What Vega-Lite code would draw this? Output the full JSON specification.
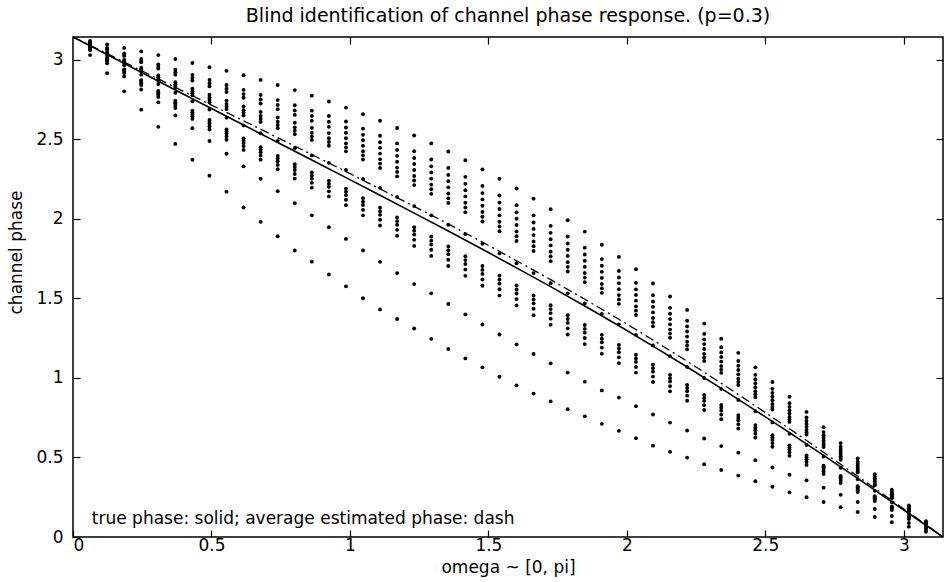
{
"$schema": "https://vega.github.io/schema/vega-lite/v6.json",
"width": 870, "height": 500,
"autosize": {"type": "none"},
"padding": {"left": 73, "top": 37, "right": 2, "bottom": 45},
"background": "white",
"config": {"view": {"stroke": "black", "strokeWidth": 1.5}, "font": "DejaVu Sans",
 "axis": {"grid": false, "domain": false, "tickColor": "black", "labelColor": "black", "titleColor": "black", "labelFont": "DejaVu Sans", "titleFont": "DejaVu Sans", "labelFontSize": 17, "titleFontSize": 17, "titleFontWeight": "normal", "tickWidth": 1.2}},
"title": {"text": "Blind identification of channel phase response. (p=0.3)", "fontSize": 19, "fontWeight": "normal", "font": "DejaVu Sans", "color": "black", "offset": 10, "baseline": "bottom", "dy": 21},
"datasets": {
"pts": [
{"x":0.0616,"y":3.117},{"x":0.0616,"y":3.107},{"x":0.0616,"y":3.105},{"x":0.0616,"y":3.102},{"x":0.0616,"y":3.094},{"x":0.0616,"y":3.091},{"x":0.0616,"y":3.089},{"x":0.0616,"y":3.087},{"x":0.0616,"y":3.083},{"x":0.0616,"y":3.074},{"x":0.0616,"y":3.072},{"x":0.0616,"y":3.071},{"x":0.0616,"y":3.069},{"x":0.0616,"y":3.066},{"x":0.0616,"y":3.059},{"x":0.0616,"y":3.028},
{"x":0.1232,"y":3.095},{"x":0.1232,"y":3.073},{"x":0.1232,"y":3.068},{"x":0.1232,"y":3.063},{"x":0.1232,"y":3.045},{"x":0.1232,"y":3.041},{"x":0.1232,"y":3.037},{"x":0.1232,"y":3.033},{"x":0.1232,"y":3.023},{"x":0.1232,"y":3.006},{"x":0.1232,"y":3.003},{"x":0.1232,"y":3.000},{"x":0.1232,"y":2.996},{"x":0.1232,"y":2.991},{"x":0.1232,"y":2.977},{"x":0.1232,"y":2.914},
{"x":0.1848,"y":3.073},{"x":0.1848,"y":3.039},{"x":0.1848,"y":3.030},{"x":0.1848,"y":3.023},{"x":0.1848,"y":2.997},{"x":0.1848,"y":2.990},{"x":0.1848,"y":2.984},{"x":0.1848,"y":2.979},{"x":0.1848,"y":2.964},{"x":0.1848,"y":2.938},{"x":0.1848,"y":2.934},{"x":0.1848,"y":2.929},{"x":0.1848,"y":2.923},{"x":0.1848,"y":2.915},{"x":0.1848,"y":2.894},{"x":0.1848,"y":2.800},
{"x":0.2464,"y":3.051},{"x":0.2464,"y":3.004},{"x":0.2464,"y":2.993},{"x":0.2464,"y":2.983},{"x":0.2464,"y":2.949},{"x":0.2464,"y":2.939},{"x":0.2464,"y":2.932},{"x":0.2464,"y":2.925},{"x":0.2464,"y":2.905},{"x":0.2464,"y":2.871},{"x":0.2464,"y":2.865},{"x":0.2464,"y":2.859},{"x":0.2464,"y":2.850},{"x":0.2464,"y":2.840},{"x":0.2464,"y":2.812},{"x":0.2464,"y":2.685},
{"x":0.308,"y":3.028},{"x":0.308,"y":2.969},{"x":0.308,"y":2.955},{"x":0.308,"y":2.943},{"x":0.308,"y":2.900},{"x":0.308,"y":2.888},{"x":0.308,"y":2.879},{"x":0.308,"y":2.870},{"x":0.308,"y":2.846},{"x":0.308,"y":2.803},{"x":0.308,"y":2.796},{"x":0.308,"y":2.788},{"x":0.308,"y":2.778},{"x":0.308,"y":2.765},{"x":0.308,"y":2.731},{"x":0.308,"y":2.577},
{"x":0.3696,"y":3.003},{"x":0.3696,"y":2.936},{"x":0.3696,"y":2.920},{"x":0.3696,"y":2.905},{"x":0.3696,"y":2.858},{"x":0.3696,"y":2.844},{"x":0.3696,"y":2.833},{"x":0.3696,"y":2.822},{"x":0.3696,"y":2.791},{"x":0.3696,"y":2.741},{"x":0.3696,"y":2.732},{"x":0.3696,"y":2.723},{"x":0.3696,"y":2.710},{"x":0.3696,"y":2.695},{"x":0.3696,"y":2.649},{"x":0.3696,"y":2.470},
{"x":0.4312,"y":2.978},{"x":0.4312,"y":2.904},{"x":0.4312,"y":2.885},{"x":0.4312,"y":2.868},{"x":0.4312,"y":2.817},{"x":0.4312,"y":2.801},{"x":0.4312,"y":2.788},{"x":0.4312,"y":2.776},{"x":0.4312,"y":2.738},{"x":0.4312,"y":2.679},{"x":0.4312,"y":2.669},{"x":0.4312,"y":2.658},{"x":0.4312,"y":2.644},{"x":0.4312,"y":2.627},{"x":0.4312,"y":2.568},{"x":0.4312,"y":2.370},
{"x":0.4928,"y":2.952},{"x":0.4928,"y":2.872},{"x":0.4928,"y":2.851},{"x":0.4928,"y":2.832},{"x":0.4928,"y":2.779},{"x":0.4928,"y":2.760},{"x":0.4928,"y":2.746},{"x":0.4928,"y":2.732},{"x":0.4928,"y":2.686},{"x":0.4928,"y":2.620},{"x":0.4928,"y":2.608},{"x":0.4928,"y":2.596},{"x":0.4928,"y":2.579},{"x":0.4928,"y":2.560},{"x":0.4928,"y":2.488},{"x":0.4928,"y":2.270},
{"x":0.5544,"y":2.929},{"x":0.5544,"y":2.840},{"x":0.5544,"y":2.817},{"x":0.5544,"y":2.796},{"x":0.5544,"y":2.741},{"x":0.5544,"y":2.720},{"x":0.5544,"y":2.705},{"x":0.5544,"y":2.689},{"x":0.5544,"y":2.635},{"x":0.5544,"y":2.561},{"x":0.5544,"y":2.548},{"x":0.5544,"y":2.535},{"x":0.5544,"y":2.517},{"x":0.5544,"y":2.496},{"x":0.5544,"y":2.408},{"x":0.5544,"y":2.170},
{"x":0.616,"y":2.901},{"x":0.616,"y":2.809},{"x":0.616,"y":2.783},{"x":0.616,"y":2.760},{"x":0.616,"y":2.705},{"x":0.616,"y":2.682},{"x":0.616,"y":2.665},{"x":0.616,"y":2.648},{"x":0.616,"y":2.586},{"x":0.616,"y":2.505},{"x":0.616,"y":2.490},{"x":0.616,"y":2.476},{"x":0.616,"y":2.456},{"x":0.616,"y":2.432},{"x":0.616,"y":2.329},{"x":0.616,"y":2.070},
{"x":0.6776,"y":2.872},{"x":0.6776,"y":2.777},{"x":0.6776,"y":2.749},{"x":0.6776,"y":2.724},{"x":0.6776,"y":2.670},{"x":0.6776,"y":2.645},{"x":0.6776,"y":2.626},{"x":0.6776,"y":2.608},{"x":0.6776,"y":2.537},{"x":0.6776,"y":2.449},{"x":0.6776,"y":2.434},{"x":0.6776,"y":2.418},{"x":0.6776,"y":2.396},{"x":0.6776,"y":2.371},{"x":0.6776,"y":2.251},{"x":0.6776,"y":1.980},
{"x":0.7392,"y":2.840},{"x":0.7392,"y":2.745},{"x":0.7392,"y":2.715},{"x":0.7392,"y":2.688},{"x":0.7392,"y":2.636},{"x":0.7392,"y":2.609},{"x":0.7392,"y":2.589},{"x":0.7392,"y":2.569},{"x":0.7392,"y":2.489},{"x":0.7392,"y":2.395},{"x":0.7392,"y":2.378},{"x":0.7392,"y":2.361},{"x":0.7392,"y":2.338},{"x":0.7392,"y":2.311},{"x":0.7392,"y":2.173},{"x":0.7392,"y":1.890},
{"x":0.8008,"y":2.808},{"x":0.8008,"y":2.713},{"x":0.8008,"y":2.680},{"x":0.8008,"y":2.652},{"x":0.8008,"y":2.603},{"x":0.8008,"y":2.574},{"x":0.8008,"y":2.553},{"x":0.8008,"y":2.531},{"x":0.8008,"y":2.443},{"x":0.8008,"y":2.342},{"x":0.8008,"y":2.324},{"x":0.8008,"y":2.306},{"x":0.8008,"y":2.281},{"x":0.8008,"y":2.252},{"x":0.8008,"y":2.097},{"x":0.8008,"y":1.800},
{"x":0.8624,"y":2.773},{"x":0.8624,"y":2.679},{"x":0.8624,"y":2.645},{"x":0.8624,"y":2.615},{"x":0.8624,"y":2.571},{"x":0.8624,"y":2.540},{"x":0.8624,"y":2.517},{"x":0.8624,"y":2.495},{"x":0.8624,"y":2.397},{"x":0.8624,"y":2.290},{"x":0.8624,"y":2.271},{"x":0.8624,"y":2.252},{"x":0.8624,"y":2.226},{"x":0.8624,"y":2.195},{"x":0.8624,"y":2.021},{"x":0.8624,"y":1.730},
{"x":0.924,"y":2.736},{"x":0.924,"y":2.645},{"x":0.924,"y":2.609},{"x":0.924,"y":2.577},{"x":0.924,"y":2.538},{"x":0.924,"y":2.506},{"x":0.924,"y":2.482},{"x":0.924,"y":2.458},{"x":0.924,"y":2.351},{"x":0.924,"y":2.239},{"x":0.924,"y":2.219},{"x":0.924,"y":2.200},{"x":0.924,"y":2.172},{"x":0.924,"y":2.140},{"x":0.924,"y":1.946},{"x":0.924,"y":1.650},
{"x":0.9856,"y":2.698},{"x":0.9856,"y":2.611},{"x":0.9856,"y":2.573},{"x":0.9856,"y":2.540},{"x":0.9856,"y":2.506},{"x":0.9856,"y":2.473},{"x":0.9856,"y":2.448},{"x":0.9856,"y":2.423},{"x":0.9856,"y":2.306},{"x":0.9856,"y":2.189},{"x":0.9856,"y":2.169},{"x":0.9856,"y":2.148},{"x":0.9856,"y":2.119},{"x":0.9856,"y":2.085},{"x":0.9856,"y":1.873},{"x":0.9856,"y":1.575},
{"x":1.0472,"y":2.657},{"x":1.0472,"y":2.566},{"x":1.0472,"y":2.527},{"x":1.0472,"y":2.493},{"x":1.0472,"y":2.458},{"x":1.0472,"y":2.424},{"x":1.0472,"y":2.398},{"x":1.0472,"y":2.372},{"x":1.0472,"y":2.250},{"x":1.0472,"y":2.129},{"x":1.0472,"y":2.107},{"x":1.0472,"y":2.086},{"x":1.0472,"y":2.055},{"x":1.0472,"y":2.021},{"x":1.0472,"y":1.800},{"x":1.0472,"y":1.500},
{"x":1.1088,"y":2.615},{"x":1.1088,"y":2.521},{"x":1.1088,"y":2.480},{"x":1.1088,"y":2.445},{"x":1.1088,"y":2.409},{"x":1.1088,"y":2.373},{"x":1.1088,"y":2.346},{"x":1.1088,"y":2.319},{"x":1.1088,"y":2.194},{"x":1.1088,"y":2.069},{"x":1.1088,"y":2.046},{"x":1.1088,"y":2.024},{"x":1.1088,"y":1.993},{"x":1.1088,"y":1.957},{"x":1.1088,"y":1.729},{"x":1.1088,"y":1.430},
{"x":1.1704,"y":2.570},{"x":1.1704,"y":2.473},{"x":1.1704,"y":2.432},{"x":1.1704,"y":2.395},{"x":1.1704,"y":2.358},{"x":1.1704,"y":2.321},{"x":1.1704,"y":2.294},{"x":1.1704,"y":2.266},{"x":1.1704,"y":2.137},{"x":1.1704,"y":2.008},{"x":1.1704,"y":1.985},{"x":1.1704,"y":1.962},{"x":1.1704,"y":1.930},{"x":1.1704,"y":1.893},{"x":1.1704,"y":1.658},{"x":1.1704,"y":1.370},
{"x":1.232,"y":2.523},{"x":1.232,"y":2.424},{"x":1.232,"y":2.381},{"x":1.232,"y":2.344},{"x":1.232,"y":2.306},{"x":1.232,"y":2.268},{"x":1.232,"y":2.240},{"x":1.232,"y":2.211},{"x":1.232,"y":2.079},{"x":1.232,"y":1.947},{"x":1.232,"y":1.924},{"x":1.232,"y":1.900},{"x":1.232,"y":1.867},{"x":1.232,"y":1.829},{"x":1.232,"y":1.589},{"x":1.232,"y":1.310},
{"x":1.2936,"y":2.473},{"x":1.2936,"y":2.372},{"x":1.2936,"y":2.329},{"x":1.2936,"y":2.290},{"x":1.2936,"y":2.252},{"x":1.2936,"y":2.214},{"x":1.2936,"y":2.185},{"x":1.2936,"y":2.156},{"x":1.2936,"y":2.021},{"x":1.2936,"y":1.887},{"x":1.2936,"y":1.862},{"x":1.2936,"y":1.838},{"x":1.2936,"y":1.805},{"x":1.2936,"y":1.766},{"x":1.2936,"y":1.531},{"x":1.2936,"y":1.245},
{"x":1.3552,"y":2.422},{"x":1.3552,"y":2.319},{"x":1.3552,"y":2.275},{"x":1.3552,"y":2.236},{"x":1.3552,"y":2.197},{"x":1.3552,"y":2.158},{"x":1.3552,"y":2.128},{"x":1.3552,"y":2.099},{"x":1.3552,"y":1.962},{"x":1.3552,"y":1.826},{"x":1.3552,"y":1.801},{"x":1.3552,"y":1.777},{"x":1.3552,"y":1.742},{"x":1.3552,"y":1.703},{"x":1.3552,"y":1.464},{"x":1.3552,"y":1.181},
{"x":1.4168,"y":2.367},{"x":1.4168,"y":2.263},{"x":1.4168,"y":2.219},{"x":1.4168,"y":2.179},{"x":1.4168,"y":2.140},{"x":1.4168,"y":2.100},{"x":1.4168,"y":2.071},{"x":1.4168,"y":2.041},{"x":1.4168,"y":1.903},{"x":1.4168,"y":1.764},{"x":1.4168,"y":1.740},{"x":1.4168,"y":1.715},{"x":1.4168,"y":1.680},{"x":1.4168,"y":1.641},{"x":1.4168,"y":1.399},{"x":1.4168,"y":1.122},
{"x":1.4784,"y":2.310},{"x":1.4784,"y":2.206},{"x":1.4784,"y":2.161},{"x":1.4784,"y":2.121},{"x":1.4784,"y":2.081},{"x":1.4784,"y":2.042},{"x":1.4784,"y":2.012},{"x":1.4784,"y":1.982},{"x":1.4784,"y":1.842},{"x":1.4784,"y":1.703},{"x":1.4784,"y":1.678},{"x":1.4784,"y":1.653},{"x":1.4784,"y":1.618},{"x":1.4784,"y":1.579},{"x":1.4784,"y":1.335},{"x":1.4784,"y":1.066},
{"x":1.54,"y":2.251},{"x":1.54,"y":2.146},{"x":1.54,"y":2.101},{"x":1.54,"y":2.061},{"x":1.54,"y":2.021},{"x":1.54,"y":1.981},{"x":1.54,"y":1.951},{"x":1.54,"y":1.921},{"x":1.54,"y":1.782},{"x":1.54,"y":1.642},{"x":1.54,"y":1.617},{"x":1.54,"y":1.592},{"x":1.54,"y":1.557},{"x":1.54,"y":1.517},{"x":1.54,"y":1.272},{"x":1.54,"y":1.007},
{"x":1.6016,"y":2.190},{"x":1.6016,"y":2.085},{"x":1.6016,"y":2.040},{"x":1.6016,"y":2.000},{"x":1.6016,"y":1.960},{"x":1.6016,"y":1.920},{"x":1.6016,"y":1.890},{"x":1.6016,"y":1.860},{"x":1.6016,"y":1.720},{"x":1.6016,"y":1.580},{"x":1.6016,"y":1.555},{"x":1.6016,"y":1.530},{"x":1.6016,"y":1.495},{"x":1.6016,"y":1.455},{"x":1.6016,"y":1.210},{"x":1.6016,"y":0.953},
{"x":1.6632,"y":2.126},{"x":1.6632,"y":2.021},{"x":1.6632,"y":1.976},{"x":1.6632,"y":1.936},{"x":1.6632,"y":1.897},{"x":1.6632,"y":1.857},{"x":1.6632,"y":1.827},{"x":1.6632,"y":1.797},{"x":1.6632,"y":1.658},{"x":1.6632,"y":1.518},{"x":1.6632,"y":1.493},{"x":1.6632,"y":1.468},{"x":1.6632,"y":1.434},{"x":1.6632,"y":1.394},{"x":1.6632,"y":1.150},{"x":1.6632,"y":0.901},
{"x":1.7248,"y":2.059},{"x":1.7248,"y":1.955},{"x":1.7248,"y":1.911},{"x":1.7248,"y":1.871},{"x":1.7248,"y":1.832},{"x":1.7248,"y":1.792},{"x":1.7248,"y":1.763},{"x":1.7248,"y":1.733},{"x":1.7248,"y":1.595},{"x":1.7248,"y":1.456},{"x":1.7248,"y":1.432},{"x":1.7248,"y":1.407},{"x":1.7248,"y":1.372},{"x":1.7248,"y":1.333},{"x":1.7248,"y":1.091},{"x":1.7248,"y":0.852},
{"x":1.7864,"y":1.990},{"x":1.7864,"y":1.888},{"x":1.7864,"y":1.844},{"x":1.7864,"y":1.805},{"x":1.7864,"y":1.766},{"x":1.7864,"y":1.727},{"x":1.7864,"y":1.697},{"x":1.7864,"y":1.668},{"x":1.7864,"y":1.531},{"x":1.7864,"y":1.394},{"x":1.7864,"y":1.370},{"x":1.7864,"y":1.345},{"x":1.7864,"y":1.311},{"x":1.7864,"y":1.272},{"x":1.7864,"y":1.033},{"x":1.7864,"y":0.803},
{"x":1.848,"y":1.919},{"x":1.848,"y":1.818},{"x":1.848,"y":1.775},{"x":1.848,"y":1.736},{"x":1.848,"y":1.698},{"x":1.848,"y":1.659},{"x":1.848,"y":1.630},{"x":1.848,"y":1.601},{"x":1.848,"y":1.467},{"x":1.848,"y":1.332},{"x":1.848,"y":1.308},{"x":1.848,"y":1.284},{"x":1.848,"y":1.250},{"x":1.848,"y":1.212},{"x":1.848,"y":0.976},{"x":1.848,"y":0.758},
{"x":1.9096,"y":1.836},{"x":1.9096,"y":1.746},{"x":1.9096,"y":1.704},{"x":1.9096,"y":1.666},{"x":1.9096,"y":1.628},{"x":1.9096,"y":1.590},{"x":1.9096,"y":1.562},{"x":1.9096,"y":1.534},{"x":1.9096,"y":1.402},{"x":1.9096,"y":1.270},{"x":1.9096,"y":1.246},{"x":1.9096,"y":1.223},{"x":1.9096,"y":1.190},{"x":1.9096,"y":1.152},{"x":1.9096,"y":0.921},{"x":1.9096,"y":0.711},
{"x":1.9712,"y":1.760},{"x":1.9712,"y":1.672},{"x":1.9712,"y":1.631},{"x":1.9712,"y":1.594},{"x":1.9712,"y":1.557},{"x":1.9712,"y":1.520},{"x":1.9712,"y":1.493},{"x":1.9712,"y":1.465},{"x":1.9712,"y":1.336},{"x":1.9712,"y":1.207},{"x":1.9712,"y":1.184},{"x":1.9712,"y":1.161},{"x":1.9712,"y":1.129},{"x":1.9712,"y":1.092},{"x":1.9712,"y":0.876},{"x":1.9712,"y":0.667},
{"x":2.0328,"y":1.682},{"x":2.0328,"y":1.597},{"x":2.0328,"y":1.556},{"x":2.0328,"y":1.521},{"x":2.0328,"y":1.485},{"x":2.0328,"y":1.449},{"x":2.0328,"y":1.422},{"x":2.0328,"y":1.395},{"x":2.0328,"y":1.270},{"x":2.0328,"y":1.145},{"x":2.0328,"y":1.122},{"x":2.0328,"y":1.100},{"x":2.0328,"y":1.068},{"x":2.0328,"y":1.033},{"x":2.0328,"y":0.822},{"x":2.0328,"y":0.621},
{"x":2.0944,"y":1.593},{"x":2.0944,"y":1.519},{"x":2.0944,"y":1.480},{"x":2.0944,"y":1.446},{"x":2.0944,"y":1.411},{"x":2.0944,"y":1.376},{"x":2.0944,"y":1.350},{"x":2.0944,"y":1.324},{"x":2.0944,"y":1.203},{"x":2.0944,"y":1.082},{"x":2.0944,"y":1.060},{"x":2.0944,"y":1.039},{"x":2.0944,"y":1.008},{"x":2.0944,"y":0.974},{"x":2.0944,"y":0.770},{"x":2.0944,"y":0.574},
{"x":2.156,"y":1.511},{"x":2.156,"y":1.440},{"x":2.156,"y":1.403},{"x":2.156,"y":1.369},{"x":2.156,"y":1.336},{"x":2.156,"y":1.303},{"x":2.156,"y":1.278},{"x":2.156,"y":1.252},{"x":2.156,"y":1.136},{"x":2.156,"y":1.019},{"x":2.156,"y":0.998},{"x":2.156,"y":0.977},{"x":2.156,"y":0.948},{"x":2.156,"y":0.915},{"x":2.156,"y":0.719},{"x":2.156,"y":0.536},
{"x":2.2176,"y":1.427},{"x":2.2176,"y":1.359},{"x":2.2176,"y":1.323},{"x":2.2176,"y":1.291},{"x":2.2176,"y":1.259},{"x":2.2176,"y":1.227},{"x":2.2176,"y":1.203},{"x":2.2176,"y":1.179},{"x":2.2176,"y":1.068},{"x":2.2176,"y":0.956},{"x":2.2176,"y":0.936},{"x":2.2176,"y":0.916},{"x":2.2176,"y":0.888},{"x":2.2176,"y":0.856},{"x":2.2176,"y":0.669},{"x":2.2176,"y":0.499},
{"x":2.2792,"y":1.341},{"x":2.2792,"y":1.276},{"x":2.2792,"y":1.242},{"x":2.2792,"y":1.212},{"x":2.2792,"y":1.181},{"x":2.2792,"y":1.151},{"x":2.2792,"y":1.128},{"x":2.2792,"y":1.106},{"x":2.2792,"y":0.999},{"x":2.2792,"y":0.893},{"x":2.2792,"y":0.874},{"x":2.2792,"y":0.855},{"x":2.2792,"y":0.828},{"x":2.2792,"y":0.798},{"x":2.2792,"y":0.619},{"x":2.2792,"y":0.457},
{"x":2.3408,"y":1.246},{"x":2.3408,"y":1.192},{"x":2.3408,"y":1.160},{"x":2.3408,"y":1.131},{"x":2.3408,"y":1.102},{"x":2.3408,"y":1.074},{"x":2.3408,"y":1.052},{"x":2.3408,"y":1.031},{"x":2.3408,"y":0.930},{"x":2.3408,"y":0.830},{"x":2.3408,"y":0.812},{"x":2.3408,"y":0.794},{"x":2.3408,"y":0.769},{"x":2.3408,"y":0.740},{"x":2.3408,"y":0.571},{"x":2.3408,"y":0.421},
{"x":2.4024,"y":1.157},{"x":2.4024,"y":1.106},{"x":2.4024,"y":1.076},{"x":2.4024,"y":1.049},{"x":2.4024,"y":1.022},{"x":2.4024,"y":0.995},{"x":2.4024,"y":0.975},{"x":2.4024,"y":0.955},{"x":2.4024,"y":0.861},{"x":2.4024,"y":0.766},{"x":2.4024,"y":0.749},{"x":2.4024,"y":0.733},{"x":2.4024,"y":0.709},{"x":2.4024,"y":0.682},{"x":2.4024,"y":0.530},{"x":2.4024,"y":0.386},
{"x":2.464,"y":1.066},{"x":2.464,"y":1.019},{"x":2.464,"y":0.991},{"x":2.464,"y":0.966},{"x":2.464,"y":0.941},{"x":2.464,"y":0.916},{"x":2.464,"y":0.897},{"x":2.464,"y":0.878},{"x":2.464,"y":0.790},{"x":2.464,"y":0.703},{"x":2.464,"y":0.687},{"x":2.464,"y":0.671},{"x":2.464,"y":0.649},{"x":2.464,"y":0.624},{"x":2.464,"y":0.483},{"x":2.464,"y":0.350},
{"x":2.5256,"y":0.974},{"x":2.5256,"y":0.931},{"x":2.5256,"y":0.905},{"x":2.5256,"y":0.882},{"x":2.5256,"y":0.859},{"x":2.5256,"y":0.836},{"x":2.5256,"y":0.818},{"x":2.5256,"y":0.801},{"x":2.5256,"y":0.720},{"x":2.5256,"y":0.639},{"x":2.5256,"y":0.625},{"x":2.5256,"y":0.610},{"x":2.5256,"y":0.590},{"x":2.5256,"y":0.567},{"x":2.5256,"y":0.437},{"x":2.5256,"y":0.316},
{"x":2.5872,"y":0.881},{"x":2.5872,"y":0.841},{"x":2.5872,"y":0.818},{"x":2.5872,"y":0.797},{"x":2.5872,"y":0.776},{"x":2.5872,"y":0.754},{"x":2.5872,"y":0.739},{"x":2.5872,"y":0.723},{"x":2.5872,"y":0.649},{"x":2.5872,"y":0.576},{"x":2.5872,"y":0.562},{"x":2.5872,"y":0.549},{"x":2.5872,"y":0.531},{"x":2.5872,"y":0.510},{"x":2.5872,"y":0.391},{"x":2.5872,"y":0.280},
{"x":2.6488,"y":0.786},{"x":2.6488,"y":0.751},{"x":2.6488,"y":0.729},{"x":2.6488,"y":0.710},{"x":2.6488,"y":0.692},{"x":2.6488,"y":0.673},{"x":2.6488,"y":0.658},{"x":2.6488,"y":0.644},{"x":2.6488,"y":0.578},{"x":2.6488,"y":0.512},{"x":2.6488,"y":0.500},{"x":2.6488,"y":0.488},{"x":2.6488,"y":0.472},{"x":2.6488,"y":0.453},{"x":2.6488,"y":0.356},{"x":2.6488,"y":0.250},
{"x":2.7104,"y":0.690},{"x":2.7104,"y":0.659},{"x":2.7104,"y":0.640},{"x":2.7104,"y":0.624},{"x":2.7104,"y":0.607},{"x":2.7104,"y":0.590},{"x":2.7104,"y":0.578},{"x":2.7104,"y":0.565},{"x":2.7104,"y":0.506},{"x":2.7104,"y":0.448},{"x":2.7104,"y":0.438},{"x":2.7104,"y":0.427},{"x":2.7104,"y":0.412},{"x":2.7104,"y":0.396},{"x":2.7104,"y":0.310},{"x":2.7104,"y":0.220},
{"x":2.772,"y":0.590},{"x":2.772,"y":0.567},{"x":2.772,"y":0.550},{"x":2.772,"y":0.536},{"x":2.772,"y":0.521},{"x":2.772,"y":0.507},{"x":2.772,"y":0.496},{"x":2.772,"y":0.485},{"x":2.772,"y":0.435},{"x":2.772,"y":0.384},{"x":2.772,"y":0.375},{"x":2.772,"y":0.366},{"x":2.772,"y":0.353},{"x":2.772,"y":0.339},{"x":2.772,"y":0.265},{"x":2.772,"y":0.187},
{"x":2.8336,"y":0.493},{"x":2.8336,"y":0.473},{"x":2.8336,"y":0.460},{"x":2.8336,"y":0.448},{"x":2.8336,"y":0.435},{"x":2.8336,"y":0.423},{"x":2.8336,"y":0.414},{"x":2.8336,"y":0.405},{"x":2.8336,"y":0.363},{"x":2.8336,"y":0.320},{"x":2.8336,"y":0.313},{"x":2.8336,"y":0.305},{"x":2.8336,"y":0.294},{"x":2.8336,"y":0.282},{"x":2.8336,"y":0.220},{"x":2.8336,"y":0.157},
{"x":2.8952,"y":0.395},{"x":2.8952,"y":0.379},{"x":2.8952,"y":0.368},{"x":2.8952,"y":0.359},{"x":2.8952,"y":0.349},{"x":2.8952,"y":0.339},{"x":2.8952,"y":0.332},{"x":2.8952,"y":0.324},{"x":2.8952,"y":0.290},{"x":2.8952,"y":0.256},{"x":2.8952,"y":0.250},{"x":2.8952,"y":0.244},{"x":2.8952,"y":0.235},{"x":2.8952,"y":0.226},{"x":2.8952,"y":0.176},{"x":2.8952,"y":0.126},
{"x":2.9568,"y":0.297},{"x":2.9568,"y":0.285},{"x":2.9568,"y":0.277},{"x":2.9568,"y":0.269},{"x":2.9568,"y":0.262},{"x":2.9568,"y":0.255},{"x":2.9568,"y":0.249},{"x":2.9568,"y":0.244},{"x":2.9568,"y":0.218},{"x":2.9568,"y":0.192},{"x":2.9568,"y":0.188},{"x":2.9568,"y":0.183},{"x":2.9568,"y":0.177},{"x":2.9568,"y":0.169},{"x":2.9568,"y":0.132},{"x":2.9568,"y":0.093},
{"x":3.0184,"y":0.198},{"x":3.0184,"y":0.190},{"x":3.0184,"y":0.185},{"x":3.0184,"y":0.180},{"x":3.0184,"y":0.175},{"x":3.0184,"y":0.170},{"x":3.0184,"y":0.166},{"x":3.0184,"y":0.163},{"x":3.0184,"y":0.145},{"x":3.0184,"y":0.128},{"x":3.0184,"y":0.125},{"x":3.0184,"y":0.122},{"x":3.0184,"y":0.118},{"x":3.0184,"y":0.113},{"x":3.0184,"y":0.088},{"x":3.0184,"y":0.065},
{"x":3.08,"y":0.099},{"x":3.08,"y":0.095},{"x":3.08,"y":0.092},{"x":3.08,"y":0.090},{"x":3.08,"y":0.088},{"x":3.08,"y":0.085},{"x":3.08,"y":0.083},{"x":3.08,"y":0.081},{"x":3.08,"y":0.073},{"x":3.08,"y":0.064},{"x":3.08,"y":0.063},{"x":3.08,"y":0.061},{"x":3.08,"y":0.059},{"x":3.08,"y":0.056},{"x":3.08,"y":0.044},{"x":3.08,"y":0.033}
],
"truephase": [
{"x":0,"y":3.1416},{"x":0.1232,"y":3.031},{"x":0.2464,"y":2.920},{"x":0.3696,"y":2.809},{"x":0.4928,"y":2.699},{"x":0.616,"y":2.589},{"x":0.7392,"y":2.479},{"x":0.8624,"y":2.369},{"x":0.9856,"y":2.258},{"x":1.1088,"y":2.147},{"x":1.232,"y":2.035},{"x":1.3552,"y":1.923},{"x":1.4784,"y":1.808},{"x":1.6016,"y":1.691},{"x":1.7248,"y":1.573},{"x":1.848,"y":1.451},{"x":1.9712,"y":1.327},{"x":2.0944,"y":1.199},{"x":2.2176,"y":1.068},{"x":2.3408,"y":0.934},{"x":2.464,"y":0.796},{"x":2.5872,"y":0.656},{"x":2.7104,"y":0.513},{"x":2.8336,"y":0.368},{"x":2.9568,"y":0.221},{"x":3.08,"y":0.074},{"x":3.1416,"y":0}
],
"avgphase": [
{"x":0,"y":3.1416},{"x":0.1232,"y":3.037},{"x":0.2464,"y":2.931},{"x":0.3696,"y":2.825},{"x":0.4928,"y":2.720},{"x":0.616,"y":2.615},{"x":0.7392,"y":2.509},{"x":0.8624,"y":2.403},{"x":0.9856,"y":2.296},{"x":1.1088,"y":2.187},{"x":1.232,"y":2.077},{"x":1.3552,"y":1.967},{"x":1.4784,"y":1.853},{"x":1.6016,"y":1.736},{"x":1.7248,"y":1.617},{"x":1.848,"y":1.494},{"x":1.9712,"y":1.368},{"x":2.0944,"y":1.238},{"x":2.2176,"y":1.104},{"x":2.3408,"y":0.966},{"x":2.464,"y":0.824},{"x":2.5872,"y":0.680},{"x":2.7104,"y":0.532},{"x":2.8336,"y":0.382},{"x":2.9568,"y":0.229},{"x":3.08,"y":0.077},{"x":3.1416,"y":0}
],
"note": [{"x":0.068,"y":0.082,"label":"true phase: solid; average estimated phase: dash"}]
},
"layer": [
{"data": {"name": "pts"}, "mark": {"type": "circle", "size": 15, "color": "black", "opacity": 1},
 "encoding": {
  "x": {"field": "x", "type": "quantitative", "scale": {"domain": [0, 3.1416], "nice": false, "zero": false},
        "axis": {"orient": "bottom", "values": [0, 0.5, 1, 1.5, 2, 2.5, 3], "format": "~g", "tickSize": -7, "labelPadding": 7, "title": "omega ~ [0, pi]", "titlePadding": 6}},
  "y": {"field": "y", "type": "quantitative", "scale": {"domain": [0, 3.1416], "nice": false, "zero": false},
        "axis": {"orient": "left", "values": [0, 0.5, 1, 1.5, 2, 2.5, 3], "format": "~g", "tickSize": -7, "labelPadding": 17, "title": "channel phase", "titlePadding": 10, "titleY": 215}}}},
{"data": {"name": "truephase"}, "mark": {"type": "line", "color": "black", "strokeWidth": 1.6},
 "encoding": {"x": {"field": "x", "type": "quantitative", "axis": null}, "y": {"field": "y", "type": "quantitative", "axis": null}}},
{"data": {"name": "avgphase"}, "mark": {"type": "line", "color": "black", "strokeWidth": 1.3, "strokeDash": [9, 4, 2, 4]},
 "encoding": {
  "x": {"field": "x", "type": "quantitative", "axis": {"orient": "top", "values": [0.5, 1, 1.5, 2, 2.5, 3], "labels": false, "tickSize": -7, "title": null}},
  "y": {"field": "y", "type": "quantitative", "axis": {"orient": "right", "values": [0.5, 1, 1.5, 2, 2.5, 3], "labels": false, "tickSize": -7, "title": null}}}},
{"data": {"name": "note"}, "mark": {"type": "text", "align": "left", "baseline": "alphabetic", "fontSize": 17, "font": "DejaVu Sans", "color": "black"},
 "encoding": {"x": {"field": "x", "type": "quantitative", "axis": null}, "y": {"field": "y", "type": "quantitative", "axis": null}, "text": {"field": "label"}}}
],
"resolve": {"axis": {"x": "independent", "y": "independent"}}
}
